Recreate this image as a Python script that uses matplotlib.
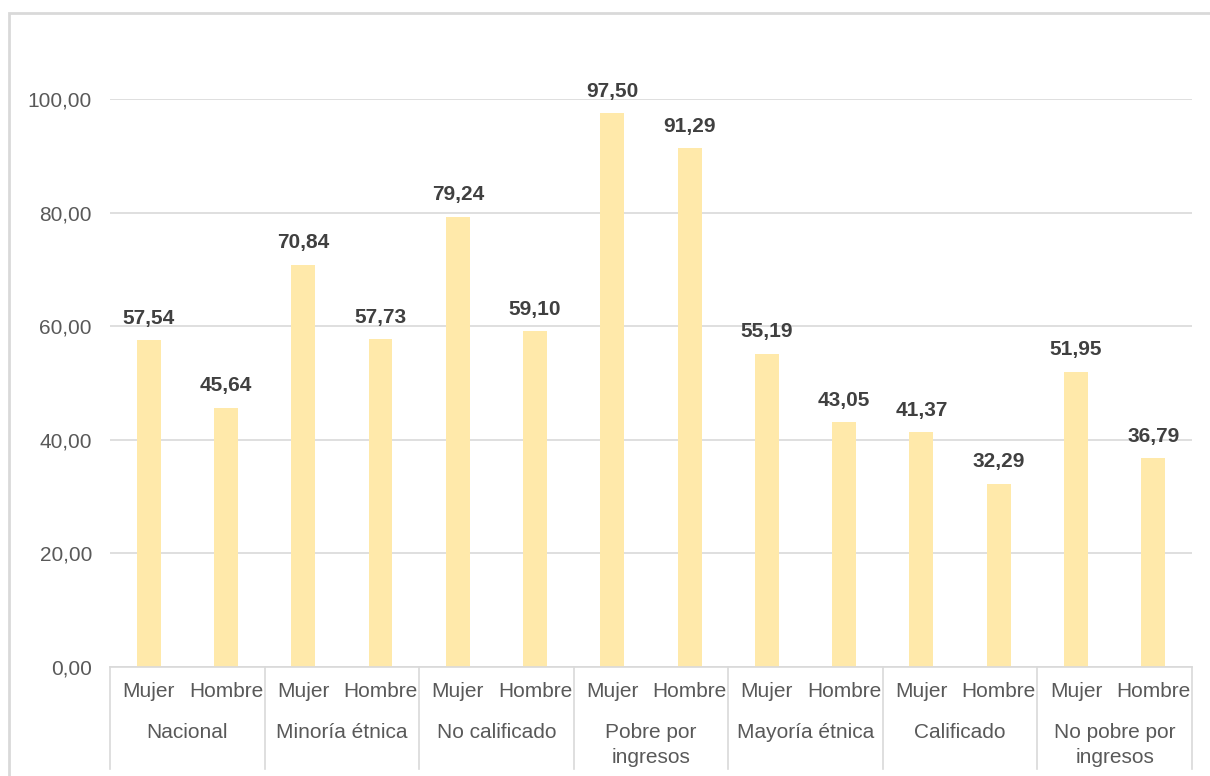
import numpy as np
import matplotlib.pyplot as plt
from matplotlib.patches import Rectangle
from matplotlib.lines import Line2D

plt.rcParams['font.family'] = ['Liberation Sans', 'DejaVu Sans']

# Datos
grupos = ['Nacional', 'Minoría étnica', 'No calificado', 'Pobre por\ningresos',
          'Mayoría étnica', 'Calificado', 'No pobre por\ningresos']
sexos = ['Mujer', 'Hombre']
valores = [57.54, 45.64, 70.84, 57.73, 79.24, 59.10, 97.50, 91.29,
           55.19, 43.05, 41.37, 32.29, 51.95, 36.79]

gris_txt = '#595959'
gris_lin = '#d9d9d9'
amarillo = '#ffe9aa'
fs = 15

fig = plt.figure(figsize=(12.1, 7.76), dpi=100)
ax = fig.add_axes([0.0909, 0.1405, 0.8942, 0.7319])

# marco del grafico
fig.patches.append(Rectangle((9/1210, -0.1), 1.2, 1 - 13/776 + 0.1,
                             transform=fig.transFigure, fill=False,
                             edgecolor='#d9d9d9', linewidth=2))

x = np.arange(len(valores))
barras = ax.bar(x, valores, width=0.31, color=amarillo, zorder=2)

for xi, v in zip(x, valores):
    ax.annotate(f'{v:.2f}'.replace('.', ','), (xi, v), xytext=(0, 9),
                textcoords='offset points', ha='center', va='bottom',
                fontsize=fs, fontweight='bold', color='#404040')

ax.set_xlim(-0.5, len(valores) - 0.5)
ax.set_ylim(0, 100)
ax.set_yticks(np.arange(0, 101, 20))
ax.set_yticklabels([f'{t:.2f}'.replace('.', ',') for t in np.arange(0, 101, 20)])
ax.yaxis.grid(True, color=gris_lin, linewidth=1.2, zorder=0)
ax.tick_params(axis='y', length=0, pad=13, labelsize=fs, labelcolor=gris_txt)
ax.set_xticks([])
for s in ['top', 'right', 'left']:
    ax.spines[s].set_visible(False)
ax.spines['bottom'].set_color(gris_lin)
ax.spines['bottom'].set_linewidth(1.2)

# etiquetas de categorias en dos niveles
trans = ax.get_xaxis_transform()
for i, xi in enumerate(x):
    ax.text(xi, -0.044, sexos[i % 2], transform=trans, ha='center', va='center',
            fontsize=fs, color=gris_txt)
for g, nombre in enumerate(grupos):
    ax.text(2 * g + 0.5, -0.098, nombre, transform=trans, ha='center', va='top',
            fontsize=fs, color=gris_txt, linespacing=1.45)
for b in range(len(grupos) + 1):
    ax.add_line(Line2D([2 * b - 0.5, 2 * b - 0.5], [0, -0.18], transform=trans,
                       color=gris_lin, linewidth=1.2, clip_on=False))

fig.savefig('out.png', dpi=100)
